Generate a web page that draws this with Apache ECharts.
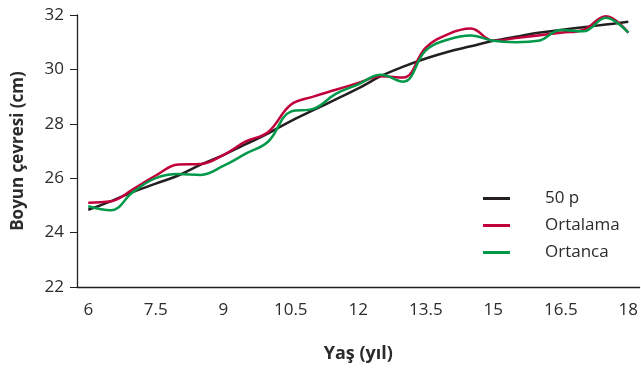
<!DOCTYPE html>
<html>
<head>
<meta charset="utf-8">
<script src="https://cdn.jsdelivr.net/npm/echarts@6/dist/echarts.min.js"></script>
<style>
html,body{margin:0;padding:0;background:#fff;}
#c{width:641px;height:372px;}
</style>
</head>
<body>
<div id="c"></div>
<script>
const ages = ['6','6.5','7','7.5','8','8.5','9','9.5','10','10.5','11','11.5','12','12.5','13','13.5','14','14.5','15','15.5','16','16.5','17','17.5','18'];
const p50 = [24.84,25.15,25.5,25.8,26.1,26.5,26.85,27.25,27.65,28.1,28.5,28.9,29.3,29.75,30.1,30.4,30.65,30.85,31.05,31.2,31.35,31.45,31.55,31.65,31.75];
const ortalama = [25.1,25.15,25.6,26.1,26.5,26.52,26.85,27.35,27.7,28.7,29.0,29.25,29.5,29.75,29.7,30.8,31.3,31.5,31.05,31.15,31.25,31.35,31.45,31.95,31.35];
const ortanca = [24.97,24.82,25.5,26.0,26.15,26.12,26.45,26.9,27.35,28.45,28.55,29.1,29.45,29.8,29.55,30.7,31.1,31.25,31.05,31.0,31.05,31.45,31.4,31.9,31.35];
const seriesNames = ['50 p','Ortalama','Ortanca'];
const yTicks = {min:22, max:32, interval:2};

const font = 'Open Sans';
const txt = '#2b2b2b';
const axisCol = '#231f20';
const colors = ['#231f20','#c1003b','#00994a'];

const chart = echarts.init(document.getElementById('c'), null, {renderer:'canvas'});
chart.setOption({
  animation:false,
  textStyle:{fontFamily:font},
  grid:{left:77, top:15, bottom:85, right:0, containLabel:false},
  legend:{
    orient:'vertical', left:478, top:185,
    itemWidth:27, itemHeight:3, itemGap:10,
    icon:'rect',
    textStyle:{fontFamily:font, fontSize:17, color:txt, padding:[0,0,0,30]},
    data:seriesNames
  },
  xAxis:{
    type:'category', data:ages, boundaryGap:true,
    name:'Yaş (yıl)', nameLocation:'middle', nameGap:58,
    nameTextStyle:{fontFamily:font, fontSize:18, fontWeight:'bold', color:txt},
    axisLine:{lineStyle:{color:axisCol, width:1.3}},
    axisTick:{interval:0, length:6, lineStyle:{color:axisCol}},
    axisLabel:{interval:2, margin:15, fontSize:17, color:txt, fontFamily:font}
  },
  yAxis:{
    type:'value', min:yTicks.min, max:yTicks.max, interval:yTicks.interval,
    name:'Boyun çevresi (cm)', nameLocation:'middle', nameGap:50, nameRotate:90,
    nameTextStyle:{fontFamily:font, fontSize:17, fontWeight:'bold', color:txt},
    splitLine:{show:false},
    axisLine:{show:true, lineStyle:{color:axisCol, width:1.3}},
    axisTick:{show:true, length:7, lineStyle:{color:axisCol}},
    axisLabel:{margin:13, fontSize:17, color:txt, fontFamily:font}
  },
  series:[
    {name:seriesNames[0], type:'line', data:p50, smooth:0.4, symbol:'none', lineStyle:{color:colors[0], width:2.5}, itemStyle:{color:colors[0]}, z:2},
    {name:seriesNames[1], type:'line', data:ortalama, smooth:0.4, symbol:'none', lineStyle:{color:colors[1], width:2.5}, itemStyle:{color:colors[1]}, z:3},
    {name:seriesNames[2], type:'line', data:ortanca, smooth:0.4, symbol:'none', lineStyle:{color:colors[2], width:2.5}, itemStyle:{color:colors[2]}, z:4}
  ]
});
</script>
</body>
</html>
